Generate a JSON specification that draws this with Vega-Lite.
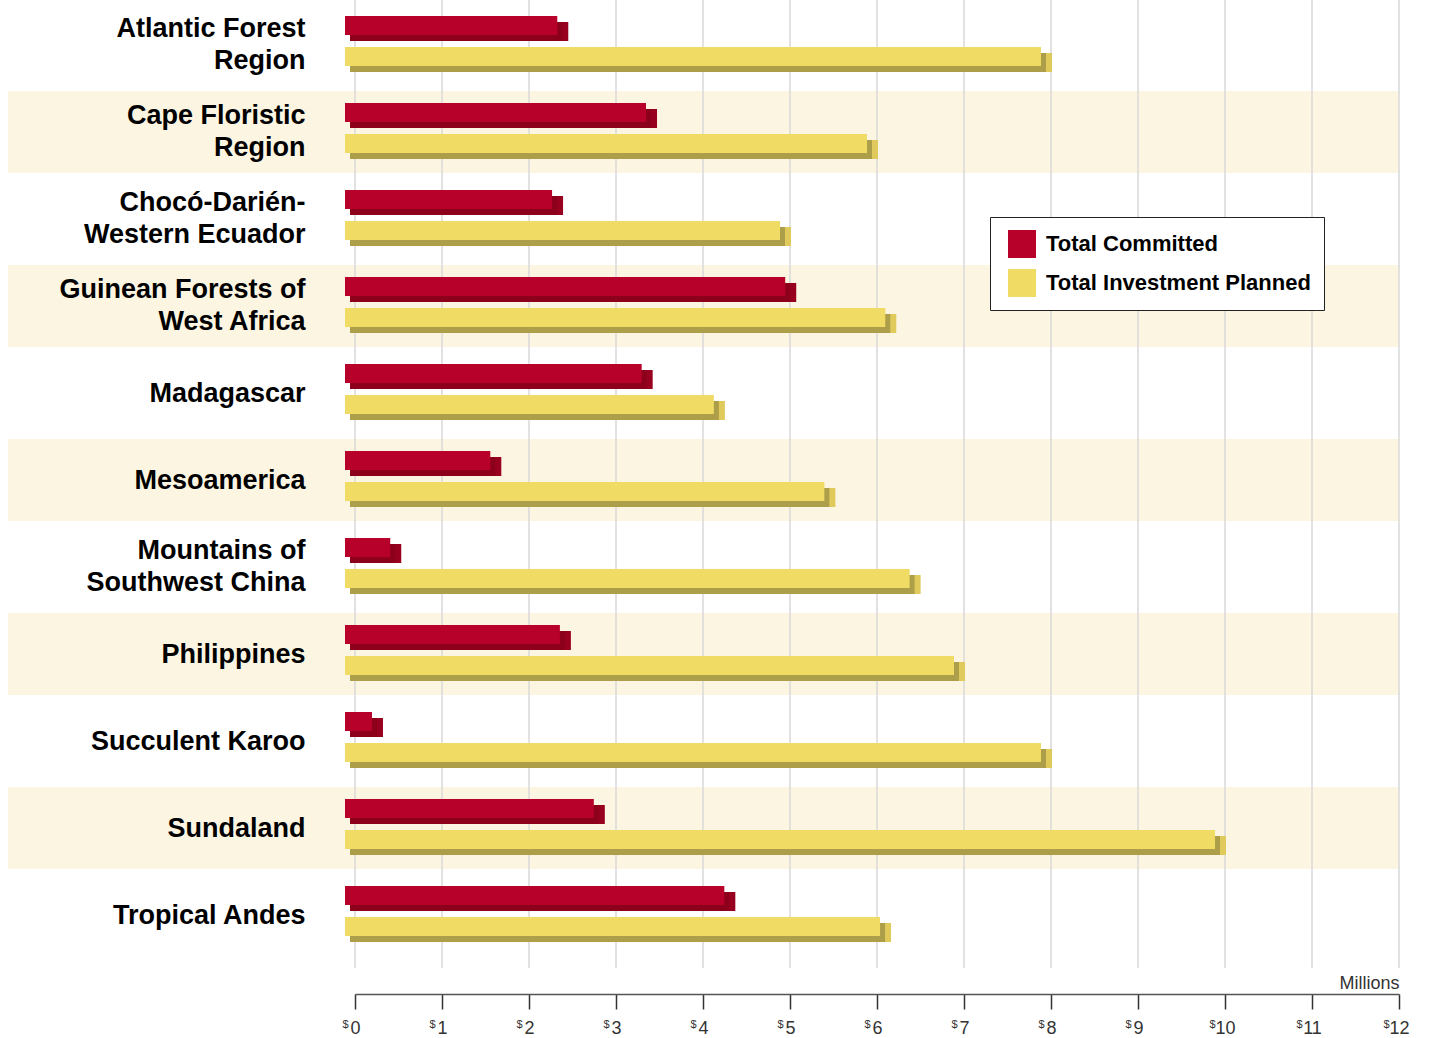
{
  "$schema": "https://vega.github.io/schema/vega-lite/v6.json",
  "width": 1044,
  "height": 968,
  "autosize": {"type": "none"},
  "padding": {"left": 355, "top": 0, "right": 30, "bottom": 70},
  "background": "white",
  "config": {"view": {"stroke": null}, "font": "Liberation Sans"},
  "datasets": {
    "bars": [
      {"region": "Atlantic Forest Region", "series": "Total Committed", "value": 2.44},
      {"region": "Atlantic Forest Region", "series": "Total Investment Planned", "value": 8.0},
      {"region": "Cape Floristic Region", "series": "Total Committed", "value": 3.46},
      {"region": "Cape Floristic Region", "series": "Total Investment Planned", "value": 6.0},
      {"region": "Chocó-Darién-Western Ecuador", "series": "Total Committed", "value": 2.38},
      {"region": "Chocó-Darién-Western Ecuador", "series": "Total Investment Planned", "value": 5.0},
      {"region": "Guinean Forests of West Africa", "series": "Total Committed", "value": 5.06},
      {"region": "Guinean Forests of West Africa", "series": "Total Investment Planned", "value": 6.21},
      {"region": "Madagascar", "series": "Total Committed", "value": 3.41},
      {"region": "Madagascar", "series": "Total Investment Planned", "value": 4.24},
      {"region": "Mesoamerica", "series": "Total Committed", "value": 1.67},
      {"region": "Mesoamerica", "series": "Total Investment Planned", "value": 5.51},
      {"region": "Mountains of Southwest China", "series": "Total Committed", "value": 0.52},
      {"region": "Mountains of Southwest China", "series": "Total Investment Planned", "value": 6.49},
      {"region": "Philippines", "series": "Total Committed", "value": 2.47},
      {"region": "Philippines", "series": "Total Investment Planned", "value": 7.0},
      {"region": "Succulent Karoo", "series": "Total Committed", "value": 0.31},
      {"region": "Succulent Karoo", "series": "Total Investment Planned", "value": 8.0},
      {"region": "Sundaland", "series": "Total Committed", "value": 2.86},
      {"region": "Sundaland", "series": "Total Investment Planned", "value": 10.0},
      {"region": "Tropical Andes", "series": "Total Committed", "value": 4.36},
      {"region": "Tropical Andes", "series": "Total Investment Planned", "value": 6.15}
    ],
    "bands": [
      {"region": "Cape Floristic Region"},
      {"region": "Guinean Forests of West Africa"},
      {"region": "Mesoamerica"},
      {"region": "Philippines"},
      {"region": "Sundaland"}
    ],
    "grid": [
      {"tick": 0}, {"tick": 1}, {"tick": 2}, {"tick": 3}, {"tick": 4}, {"tick": 5}, {"tick": 6},
      {"tick": 7}, {"tick": 8}, {"tick": 9}, {"tick": 10}, {"tick": 11}, {"tick": 12}
    ]
  },
  "resolve": {"scale": {"x": "independent", "yOffset": "independent"}},
  "layer": [
    {
      "data": {"name": "bands"},
      "mark": {"type": "rect", "color": "#FCF5E1"},
      "encoding": {
        "y": {
          "field": "region", "type": "nominal",
          "scale": {"domain": ["Atlantic Forest Region", "Cape Floristic Region", "Chocó-Darién-Western Ecuador", "Guinean Forests of West Africa", "Madagascar", "Mesoamerica", "Mountains of Southwest China", "Philippines", "Succulent Karoo", "Sundaland", "Tropical Andes"], "paddingInner": 0.0575, "paddingOuter": 0.092, "align": 0.25},
          "axis": {
            "title": null, "domain": false, "ticks": false, "grid": false, "zindex": 1,
            "labelFont": "Liberation Sans", "labelFontSize": 27, "labelFontWeight": "bold", "labelColor": "#000000",
            "labelPadding": 50, "labelLineHeight": 32, "labelLimit": 0, "labelAlign": "right", "labelBaseline": "middle",
            "labelOffset": {"condition": {"test": "datum.value == 'Atlantic Forest Region' || datum.value == 'Cape Floristic Region' || datum.value == 'Chocó-Darién-Western Ecuador' || datum.value == 'Guinean Forests of West Africa' || datum.value == 'Mountains of Southwest China'", "value": -16}, "value": 1},
            "labelExpr": "datum.value == 'Atlantic Forest Region' ? ['Atlantic Forest', 'Region'] : datum.value == 'Cape Floristic Region' ? ['Cape Floristic', 'Region'] : datum.value == 'Chocó-Darién-Western Ecuador' ? ['Chocó-Darién-', 'Western Ecuador'] : datum.value == 'Guinean Forests of West Africa' ? ['Guinean Forests of', 'West Africa'] : datum.value == 'Mountains of Southwest China' ? ['Mountains of', 'Southwest China'] : datum.value"
          }
        },
        "x": {"datum": -3.989, "type": "quantitative", "scale": {"domain": [0, 12], "nice": false, "zero": false}, "axis": null},
        "x2": {"datum": 12}
      }
    },
    {
      "data": {"name": "grid"},
      "mark": {"type": "rule", "color": "#D9D9D9", "strokeWidth": 1.5},
      "encoding": {
        "x": {
          "field": "tick", "type": "quantitative",
          "scale": {"domain": [0, 12], "nice": false, "zero": false},
          "axis": {
            "orient": "bottom", "offset": 26, "title": null, "domain": false, "ticks": false, "grid": false,
            "values": [0, 1, 2, 3, 4, 5, 6, 7, 8, 9, 10, 11, 12],
            "labelExpr": "'$'", "labelFont": "Liberation Sans", "labelFontSize": 11, "labelColor": "#333333",
            "labelAlign": "right", "labelBaseline": "top", "labelPadding": 24,
            "labelOffset": {"condition": {"test": "datum.value >= 10", "value": -10}, "value": -7},
            "labelFlush": false, "labelOverlap": false
          }
        }
      }
    },
    {
      "data": {"name": "bars"},
      "mark": {"type": "bar", "xOffset": 1, "x2Offset": 1},
      "encoding": {
        "y": {"field": "region", "type": "nominal", "scale": {"domain": ["Atlantic Forest Region", "Cape Floristic Region", "Chocó-Darién-Western Ecuador", "Guinean Forests of West Africa", "Madagascar", "Mesoamerica", "Mountains of Southwest China", "Philippines", "Succulent Karoo", "Sundaland", "Tropical Andes"], "paddingInner": 0.0575, "paddingOuter": 0.092, "align": 0.25}},
        "yOffset": {"field": "series", "type": "nominal", "scale": {"domain": ["Total Committed", "Total Investment Planned"], "paddingInner": 0.387, "paddingOuter": 0.516, "align": 0.5625}},
        "x": {"field": "value", "type": "quantitative", "scale": {"domain": [0, 12], "nice": false, "zero": false}, "axis": null},
        "color": {"condition": {"test": "datum.series === 'Total Committed'", "value": "#98001F"}, "value": "#E0CA5C"}
      }
    },
    {
      "data": {"name": "bars"},
      "mark": {"type": "bar", "xOffset": -5, "x2Offset": -5},
      "encoding": {
        "y": {"field": "region", "type": "nominal", "scale": {"domain": ["Atlantic Forest Region", "Cape Floristic Region", "Chocó-Darién-Western Ecuador", "Guinean Forests of West Africa", "Madagascar", "Mesoamerica", "Mountains of Southwest China", "Philippines", "Succulent Karoo", "Sundaland", "Tropical Andes"], "paddingInner": 0.0575, "paddingOuter": 0.092, "align": 0.25}},
        "yOffset": {"field": "series", "type": "nominal", "scale": {"domain": ["Total Committed", "Total Investment Planned"], "paddingInner": 0.387, "paddingOuter": 0.516, "align": 0.5625}},
        "x": {"field": "value", "type": "quantitative", "scale": {"domain": [0, 12], "nice": false, "zero": false}, "axis": null},
        "color": {"condition": {"test": "datum.series === 'Total Committed'", "value": "#8C001C"}, "value": "#AD9E49"}
      }
    },
    {
      "data": {"name": "bars"},
      "mark": {"type": "bar", "xOffset": -10, "x2Offset": -10},
      "encoding": {
        "y": {"field": "region", "type": "nominal", "scale": {"domain": ["Atlantic Forest Region", "Cape Floristic Region", "Chocó-Darién-Western Ecuador", "Guinean Forests of West Africa", "Madagascar", "Mesoamerica", "Mountains of Southwest China", "Philippines", "Succulent Karoo", "Sundaland", "Tropical Andes"], "paddingInner": 0.0575, "paddingOuter": 0.092, "align": 0.25}},
        "yOffset": {"field": "series", "type": "nominal", "scale": {"domain": ["Total Committed", "Total Investment Planned"], "paddingInner": 0.387, "paddingOuter": 0.516, "align": 0.375}},
        "x": {
          "field": "value", "type": "quantitative",
          "scale": {"domain": [0, 12], "nice": false, "zero": false},
          "axis": {
            "orient": "bottom", "offset": 26, "grid": false,
            "values": [0, 1, 2, 3, 4, 5, 6, 7, 8, 9, 10, 11, 12],
            "domainColor": "#555555", "domainWidth": 1.5,
            "tickColor": "#333333", "tickSize": 15, "tickWidth": 1.5,
            "labelFont": "Liberation Sans", "labelFontSize": 18, "labelColor": "#333333",
            "labelPadding": 10, "labelBaseline": "top", "labelAlign": "center", "labelFlush": false, "labelOverlap": false,
            "title": "Millions", "titleFont": "Liberation Sans", "titleFontSize": 18, "titleFontWeight": "normal", "titleColor": "#333333",
            "titleAnchor": "end", "titleAlign": "right", "titleBaseline": "alphabetic", "titleX": 1044, "titleY": -6
          }
        },
        "color": {
          "field": "series", "type": "nominal",
          "scale": {"domain": ["Total Committed", "Total Investment Planned"], "range": ["#B7002A", "#F0DB64"]},
          "legend": {
            "title": null, "orient": "none", "legendX": 635, "legendY": 217, "direction": "vertical",
            "fillColor": "#FFFFFF", "strokeColor": "#222222", "padding": 13, "cornerRadius": 0,
            "symbolType": "square", "symbolSize": 784, "symbolOffset": 5, "symbolStrokeWidth": 0,
            "labelOffset": 10, "labelFont": "Liberation Sans", "labelFontSize": 22, "labelFontWeight": "bold", "labelColor": "#000000",
            "rowPadding": 11, "labelLimit": 400,
            "encode": {"symbols": {"update": {"fill": {"signal": "datum.value === 'Total Committed' ? '#AE302E' : '#F0DB64'"}}}}
          }
        }
      }
    }
  ]
}
